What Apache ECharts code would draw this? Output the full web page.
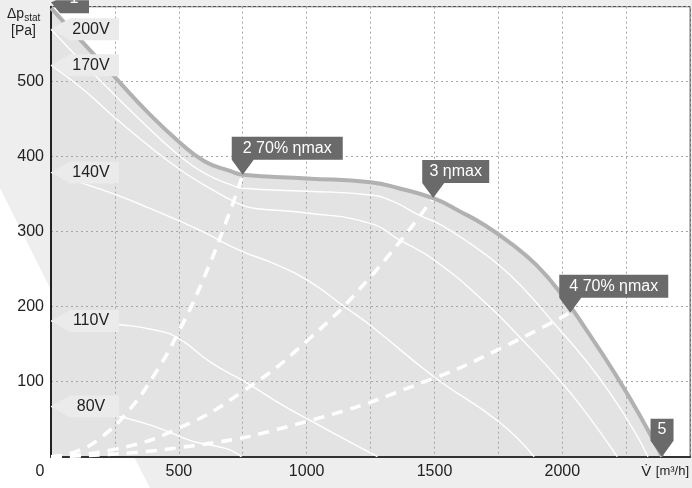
<!DOCTYPE html>
<html><head><meta charset="utf-8">
<script src="https://cdn.jsdelivr.net/npm/echarts@6/dist/echarts.min.js"></script>
<style>html,body{margin:0;padding:0;background:#efeeef;}#c{width:692px;height:488px;}</style>
</head><body><div id="c"></div>
<script>
// ---- data (flow m3/h, static pressure Pa) ----
const envelopeMax = [[0,598],[125,552],[250,506],[370,462],[500,420],[600,394],[700,381],[750,376],[1000,371],[1250,366],[1360,358],[1500,344],[1600,327],[1700,308],[1800,284],[1900,255],[2000,215],[2100,166],[2200,114],[2300,57],[2390,0]];
const curve200V = [[0,570],[125,525],[250,482],[370,442],[500,402],[600,378],[700,363],[750,358],[1000,354],[1250,349],[1340,340],[1440,322],[1520,310],[1640,284],[1754,255],[1860,220],[1962,180],[2100,125],[2200,78],[2280,35],[2335,0]];
const curve170V = [[0,522],[125,490],[250,452],[370,418],[500,384],[600,362],[700,343],[750,335],[800,331],[1000,325],[1250,311],[1363,289],[1500,262],[1700,205],[1832,160],[2000,98],[2100,55],[2215,0]];
const curve140V = [[0,379],[120,365],[256,349],[387,331],[582,302],[738,275],[868,258],[1000,236],[1148,200],[1250,175],[1500,106],[1754,46],[1890,0]];
const curve110V = [[0,181],[135,179],[270,176],[406,169],[497,158],[628,125],[758,100],[914,67],[1000,51],[1150,23],[1277,0]];
const curve80V  = [[0,67],[140,61],[276,53],[406,40],[549,21],[600,17],[660,13],[706,8],[745,0]];
const system2 = [[0,0],[100,7],[200,27],[300,60],[400,107],[500,167],[600,240],[700,327],[750,376]];
const system3 = [[0,0],[250,10],[500,38],[750,87],[1000,154],[1250,240],[1495,345]];
const system4 = [[0,0],[500,12],[1000,47],[1500,105],[1750,143],[2031,192]];
const speedLabels = ['200V','170V','140V','110V','80V'];
const pointFlow = [0,750,1495,2031,2390];
const pointPressure = [598,376,345,192,0];
const pointLabels = ['1','2 70% ηmax','3 ηmax','4 70% ηmax','5'];
const xTicks = [0,500,1000,1500,2000];
const yTicks = [100,200,300,400,500];

const FONT = 'Liberation Sans, Arial, Helvetica, sans-serif';
const chart = echarts.init(document.getElementById('c'), null, {renderer:'canvas'});

const speedCurves = [curve200V, curve170V, curve140V, curve110V, curve80V];
const tagPath = 'path://M0,11 L19,0 L68,0 L68,22 L19,22 Z';
const SM = 0.5;

const series = [];
series.push({type:'line', data: envelopeMax, smooth:SM, showSymbol:false, z:2,
  lineStyle:{width:0, opacity:0}, areaStyle:{color:'#e3e3e3', opacity:1}, silent:true});
speedCurves.forEach((d,i)=>{
  series.push({type:'line', data:d, smooth:SM, showSymbol:false, z:4,
    lineStyle:{color:'#ffffff', width:1.4},
    markPoint:{z:20, symbol:tagPath, symbolSize:[68,22], symbolOffset:[34,0], silent:true,
      itemStyle:{color:'#ebebeb'},
      label:{show:true, position:'inside', offset:[6,0], color:'#222', fontSize:16, fontFamily:FONT, formatter:speedLabels[i]},
      data:[{coord:d[0]}]}
  });
});
[system2, system3, system4].forEach(d=>{
  series.push({type:'line', data:d, smooth:SM, showSymbol:false, z:4,
    lineStyle:{color:'#ffffff', width:3.5, type:[11,8]}});
});
// operating point tags
const tagDefs = [
  {path:'path://M0,2 L5,0 L38,0 L38,13 L9,13 Z', size:[38,13], off:[19,-1.5], lab:[4,-8]},
  {path:'path://M0,0 L111,0 L111,23 L22,23 L11,38 L0,23 Z', size:[111,38], off:[44.5,-19], lab:[0,-7.5]},
  {path:'path://M0,0 L67,0 L67,23 L22,23 L11,38 L0,23 Z', size:[67,38], off:[22.5,-19], lab:[0,-7.5]},
  {path:'path://M0,0 L109,0 L109,23 L22,23 L11,38 L0,23 Z', size:[109,38], off:[43.5,-19], lab:[0,-7.5]},
  {path:'path://M0,0 L23,0 L23,22 L11.5,38 L0,22 Z', size:[23,38], off:[0,-19], lab:[0,-8]}
];
series.push({type:'line', data: envelopeMax, smooth:SM, showSymbol:false, z:5,
  lineStyle:{color:'#b1b1b1', width:4},
  markPoint:{z:21, silent:true, data: pointFlow.map((v,i)=>({
    coord:[v, pointPressure[i]], symbol:tagDefs[i].path, symbolSize:tagDefs[i].size, symbolOffset:tagDefs[i].off,
    itemStyle:{color:'#6a6a6a'},
    label:{show:true, position:'inside', offset:tagDefs[i].lab, color:'#fff', fontSize:16, fontFamily:FONT, formatter:pointLabels[i]}
  }))}
});

chart.setOption({
  animation:false,
  backgroundColor:'#efeeef',
  textStyle:{fontFamily:FONT},
  grid:{left:51, right:1, top:6.7, bottom:31.3, show:true, backgroundColor:'#ffffff', borderColor:'#333', borderWidth:1},
  xAxis:{type:'value', min:0, max:2500, interval:250, z:3,
    axisLine:{show:true, lineStyle:{color:'#333', width:2}}, axisTick:{show:false},
    splitLine:{show:true, lineStyle:{color:'#a6a6a6', width:1, type:[2,3]}},
    axisLabel:{show:true, margin:7, color:'#222', fontSize:16, fontFamily:FONT, showMaxLabel:true, showMinLabel:true,
      formatter:v=>{ if(v===0) return '{z|0}'; if(v===2500) return '{v|V̇} {u|[m³/h]}'; return xTicks.indexOf(v)>=0? String(v):''; },
      rich:{z:{fontSize:16, color:'#222', padding:[0,22,0,0]}, v:{fontSize:15, color:'#222'}, u:{fontSize:13, color:'#222', padding:[0,50,0,0]}}
    }},
  yAxis:{type:'value', min:0, max:600, interval:100, z:3,
    axisLine:{show:true, lineStyle:{color:'#222', width:2}}, axisTick:{show:false},
    splitLine:{show:true, lineStyle:{color:'#a6a6a6', width:1, type:[2,3]}},
    axisLabel:{margin:7, color:'#222', fontSize:16, fontFamily:FONT, formatter:v=> yTicks.indexOf(v)>=0? String(v):''}},
  graphic:[
    {type:'polygon', z:-10, shape:{points:[[0,188],[51,290],[51,457],[134,457],[150,488],[0,488]]}, style:{fill:'#ffffff'}, silent:true},
    {type:'text', left:7, top:5, z:10, style:{text:'{a|Δp}{b|stat}\n{c|[Pa]}', fill:'#222', fontFamily:FONT,
      rich:{a:{fontSize:14, lineHeight:17, fill:'#222'}, b:{fontSize:10, lineHeight:17, fill:'#222', padding:[8,0,0,0]}, c:{fontSize:14, lineHeight:17, fill:'#222', padding:[0,0,0,4]}}}}
  ],
  series: series
});
</script></body></html>
